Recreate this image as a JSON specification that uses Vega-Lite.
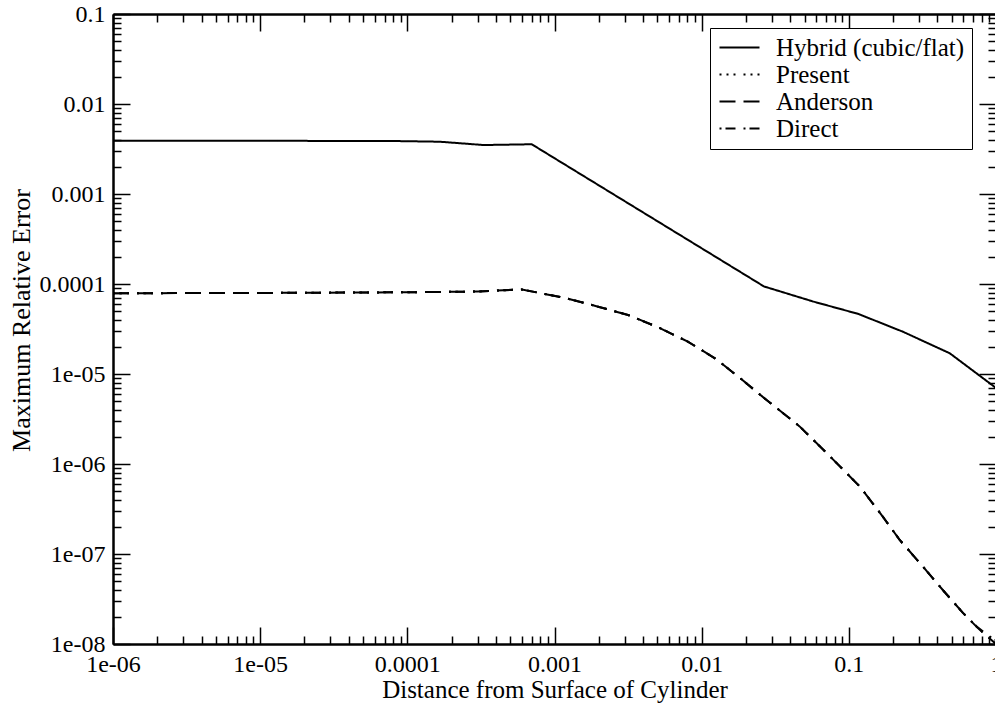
{
  "$schema": "https://vega.github.io/schema/vega-lite/v6.json",
  "width": 883,
  "height": 630,
  "autosize": {"type": "none"},
  "padding": {"left": 113, "top": 14, "right": 0, "bottom": 60},
  "background": "white",
  "config": {
    "font": "Liberation Serif",
    "view": {"stroke": null},
    "axis": {
      "grid": false,
      "domainColor": "black",
      "domainWidth": 2,
      "tickColor": "black",
      "tickWidth": 1.5,
      "labelColor": "black",
      "labelFont": "Liberation Serif",
      "labelFontSize": 24,
      "titleFont": "Liberation Serif",
      "titleFontSize": 25,
      "titleFontWeight": "normal",
      "titleColor": "black",
      "labelOverlap": false,
      "labelFlush": false,
      "labelBound": false
    },
    "legend": {
      "labelFont": "Liberation Serif",
      "labelFontSize": 25,
      "labelColor": "black",
      "labelLimit": 400
    }
  },
  "datasets": {
    "hybrid": [
      {"x": 1e-6, "y": 0.0039, "series": "Hybrid (cubic/flat)"},
      {"x": 1e-5, "y": 0.0039, "series": "Hybrid (cubic/flat)"},
      {"x": 8e-5, "y": 0.00388, "series": "Hybrid (cubic/flat)"},
      {"x": 1.66e-4, "y": 0.00381, "series": "Hybrid (cubic/flat)"},
      {"x": 3.3e-4, "y": 0.0035, "series": "Hybrid (cubic/flat)"},
      {"x": 7e-4, "y": 0.00357, "series": "Hybrid (cubic/flat)"},
      {"x": 0.0265, "y": 9.4e-5, "series": "Hybrid (cubic/flat)"},
      {"x": 0.057, "y": 6.4e-5, "series": "Hybrid (cubic/flat)"},
      {"x": 0.116, "y": 4.65e-5, "series": "Hybrid (cubic/flat)"},
      {"x": 0.233, "y": 2.95e-5, "series": "Hybrid (cubic/flat)"},
      {"x": 0.485, "y": 1.7e-5, "series": "Hybrid (cubic/flat)"},
      {"x": 1, "y": 7e-6, "series": "Hybrid (cubic/flat)"}
    ],
    "present": [
      {"x": 1e-6, "y": 7.9e-5, "series": "Present"},
      {"x": 1e-5, "y": 7.95e-5, "series": "Present"},
      {"x": 1e-4, "y": 8.1e-5, "series": "Present"},
      {"x": 3e-4, "y": 8.25e-5, "series": "Present"},
      {"x": 6e-4, "y": 8.7e-5, "series": "Present"},
      {"x": 1.21e-3, "y": 6.93e-5, "series": "Present"},
      {"x": 1.98e-3, "y": 5.6e-5, "series": "Present"},
      {"x": 3.16e-3, "y": 4.53e-5, "series": "Present"},
      {"x": 5.2e-3, "y": 3.24e-5, "series": "Present"},
      {"x": 8.05e-3, "y": 2.29e-5, "series": "Present"},
      {"x": 0.0126, "y": 1.46e-5, "series": "Present"},
      {"x": 0.01866, "y": 8.73e-6, "series": "Present"},
      {"x": 0.0276, "y": 5.14e-6, "series": "Present"},
      {"x": 0.0465, "y": 2.6e-6, "series": "Present"},
      {"x": 0.0762, "y": 1.17e-6, "series": "Present"},
      {"x": 0.119, "y": 5.6e-7, "series": "Present"},
      {"x": 0.167, "y": 2.71e-7, "series": "Present"},
      {"x": 0.222, "y": 1.43e-7, "series": "Present"},
      {"x": 0.312, "y": 7.55e-8, "series": "Present"},
      {"x": 0.435, "y": 3.98e-8, "series": "Present"},
      {"x": 0.594, "y": 2.23e-8, "series": "Present"},
      {"x": 0.751, "y": 1.51e-8, "series": "Present"},
      {"x": 0.879, "y": 1.2e-8, "series": "Present"},
      {"x": 1, "y": 1.0e-8, "series": "Present"}
    ],
    "anderson": [
      {"x": 1e-6, "y": 7.9e-5, "series": "Anderson"},
      {"x": 1e-5, "y": 7.95e-5, "series": "Anderson"},
      {"x": 1e-4, "y": 8.1e-5, "series": "Anderson"},
      {"x": 3e-4, "y": 8.25e-5, "series": "Anderson"},
      {"x": 6e-4, "y": 8.7e-5, "series": "Anderson"},
      {"x": 1.21e-3, "y": 6.93e-5, "series": "Anderson"},
      {"x": 1.98e-3, "y": 5.6e-5, "series": "Anderson"},
      {"x": 3.16e-3, "y": 4.53e-5, "series": "Anderson"},
      {"x": 5.2e-3, "y": 3.24e-5, "series": "Anderson"},
      {"x": 8.05e-3, "y": 2.29e-5, "series": "Anderson"},
      {"x": 0.0126, "y": 1.46e-5, "series": "Anderson"},
      {"x": 0.01866, "y": 8.73e-6, "series": "Anderson"},
      {"x": 0.0276, "y": 5.14e-6, "series": "Anderson"},
      {"x": 0.0465, "y": 2.6e-6, "series": "Anderson"},
      {"x": 0.0762, "y": 1.17e-6, "series": "Anderson"},
      {"x": 0.119, "y": 5.6e-7, "series": "Anderson"},
      {"x": 0.167, "y": 2.71e-7, "series": "Anderson"},
      {"x": 0.222, "y": 1.43e-7, "series": "Anderson"},
      {"x": 0.312, "y": 7.55e-8, "series": "Anderson"},
      {"x": 0.435, "y": 3.98e-8, "series": "Anderson"},
      {"x": 0.594, "y": 2.23e-8, "series": "Anderson"},
      {"x": 0.751, "y": 1.51e-8, "series": "Anderson"},
      {"x": 0.879, "y": 1.2e-8, "series": "Anderson"},
      {"x": 1, "y": 1.0e-8, "series": "Anderson"}
    ],
    "direct": [
      {"x": 1e-6, "y": 7.9e-5, "series": "Direct"},
      {"x": 1e-5, "y": 7.95e-5, "series": "Direct"},
      {"x": 1e-4, "y": 8.1e-5, "series": "Direct"},
      {"x": 3e-4, "y": 8.25e-5, "series": "Direct"},
      {"x": 6e-4, "y": 8.7e-5, "series": "Direct"},
      {"x": 1.21e-3, "y": 6.93e-5, "series": "Direct"},
      {"x": 1.98e-3, "y": 5.6e-5, "series": "Direct"},
      {"x": 3.16e-3, "y": 4.53e-5, "series": "Direct"},
      {"x": 5.2e-3, "y": 3.24e-5, "series": "Direct"},
      {"x": 8.05e-3, "y": 2.29e-5, "series": "Direct"},
      {"x": 0.0126, "y": 1.46e-5, "series": "Direct"},
      {"x": 0.01866, "y": 8.73e-6, "series": "Direct"},
      {"x": 0.0276, "y": 5.14e-6, "series": "Direct"},
      {"x": 0.0465, "y": 2.6e-6, "series": "Direct"},
      {"x": 0.0762, "y": 1.17e-6, "series": "Direct"},
      {"x": 0.119, "y": 5.6e-7, "series": "Direct"},
      {"x": 0.167, "y": 2.71e-7, "series": "Direct"},
      {"x": 0.222, "y": 1.43e-7, "series": "Direct"},
      {"x": 0.312, "y": 7.55e-8, "series": "Direct"},
      {"x": 0.435, "y": 3.98e-8, "series": "Direct"},
      {"x": 0.594, "y": 2.23e-8, "series": "Direct"},
      {"x": 0.751, "y": 1.53e-8, "series": "Direct"},
      {"x": 0.879, "y": 1.25e-8, "series": "Direct"},
      {"x": 1, "y": 1.1e-8, "series": "Direct"}
    ]
  },
  "resolve": {"axis": {"x": "independent", "y": "independent"}},
  "layer": [
    {
      "data": {"name": "hybrid"},
      "mark": {"type": "line", "color": "black", "strokeWidth": 2, "clip": true},
      "encoding": {
        "x": {
          "field": "x", "type": "quantitative",
          "scale": {"type": "log", "domain": [1e-6, 1], "nice": false},
          "axis": {
            "orient": "bottom",
            "values": [1e-6, 1e-5, 1e-4, 1e-3, 0.01, 0.1, 1],
            "tickSize": -17,
            "labelPadding": 25,
            "labelExpr": "datum.value < 0.00005 ? '1e-0' + format(-log(datum.value)/LN10, '.0f') : format(datum.value, '~g')",
            "title": "Distance from Surface of Cylinder",
            "titleY": 53,
            "titleBaseline": "alphabetic"
          }
        },
        "y": {
          "field": "y", "type": "quantitative",
          "scale": {"type": "log", "domain": [1e-8, 0.1], "nice": false},
          "axis": {
            "orient": "left",
            "values": [1e-8, 1e-7, 1e-6, 1e-5, 1e-4, 1e-3, 0.01, 0.1],
            "tickSize": -17,
            "labelPadding": 25,
            "labelExpr": "datum.value < 0.00005 ? '1e-0' + format(-log(datum.value)/LN10, '.0f') : format(datum.value, '~g')",
            "title": "Maximum Relative Error",
            "titleFontSize": 26,
            "titleX": -84,
            "titleY": 306,
            "titleAngle": -90,
            "titleAlign": "center",
            "titleBaseline": "alphabetic"
          }
        },
        "strokeDash": {
          "field": "series", "type": "nominal",
          "scale": {
            "domain": ["Hybrid (cubic/flat)", "Present", "Anderson", "Direct"],
            "range": [[1, 0], [2, 5, 2, 5, 2, 8], [16, 8], [2, 4, 10, 8]]
          },
          "legend": {
            "title": null,
            "orient": "none",
            "legendX": 597,
            "legendY": 14,
            "padding": 7,
            "strokeColor": "black",
            "fillColor": "white",
            "symbolType": "M-1,0H3",
            "symbolSize": 400,
            "symbolStrokeWidth": 2,
            "symbolStrokeColor": "black",
            "labelOffset": 34,
            "rowPadding": 1
          }
        }
      }
    },
    {
      "data": {"name": "present"},
      "mark": {"type": "line", "color": "black", "strokeWidth": 2, "clip": true},
      "encoding": {
        "x": {
          "field": "x", "type": "quantitative",
          "scale": {"type": "log", "domain": [1e-6, 1], "nice": false},
          "axis": {"orient": "top", "values": [1e-6, 1e-5, 1e-4, 1e-3, 0.01, 0.1, 1], "tickSize": -17, "labels": false, "title": null}
        },
        "y": {
          "field": "y", "type": "quantitative",
          "scale": {"type": "log", "domain": [1e-8, 0.1], "nice": false},
          "axis": {"orient": "right", "values": [1e-8, 1e-7, 1e-6, 1e-5, 1e-4, 1e-3, 0.01, 0.1], "tickSize": -17, "labels": false, "title": null}
        },
        "strokeDash": {
          "field": "series", "type": "nominal",
          "scale": {
            "domain": ["Hybrid (cubic/flat)", "Present", "Anderson", "Direct"],
            "range": [[1, 0], [2, 5, 2, 5, 2, 8], [16, 8], [2, 4, 10, 8]]
          }
        }
      }
    },
    {
      "data": {"name": "anderson"},
      "mark": {"type": "line", "color": "black", "strokeWidth": 2, "clip": true},
      "encoding": {
        "x": {
          "field": "x", "type": "quantitative",
          "scale": {"type": "log", "domain": [1e-6, 1], "nice": false},
          "axis": {"orient": "bottom", "values": [2e-6, 3e-6, 4e-6, 5e-6, 6e-6, 7e-6, 8e-6, 9e-6, 2e-5, 3e-5, 4e-5, 5e-5, 6e-5, 7e-5, 8e-5, 9e-5, 2e-4, 3e-4, 4e-4, 5e-4, 6e-4, 7e-4, 8e-4, 9e-4, 0.002, 0.003, 0.004, 0.005, 0.006, 0.007, 0.008, 0.009, 0.02, 0.03, 0.04, 0.05, 0.06, 0.07, 0.08, 0.09, 0.2, 0.3, 0.4, 0.5, 0.6, 0.7, 0.8, 0.9], "tickSize": -8, "labels": false, "title": null}
        },
        "y": {
          "field": "y", "type": "quantitative",
          "scale": {"type": "log", "domain": [1e-8, 0.1], "nice": false},
          "axis": {"orient": "left", "values": [2e-8, 3e-8, 4e-8, 5e-8, 6e-8, 7e-8, 8e-8, 9e-8, 2e-7, 3e-7, 4e-7, 5e-7, 6e-7, 7e-7, 8e-7, 9e-7, 2e-6, 3e-6, 4e-6, 5e-6, 6e-6, 7e-6, 8e-6, 9e-6, 2e-5, 3e-5, 4e-5, 5e-5, 6e-5, 7e-5, 8e-5, 9e-5, 2e-4, 3e-4, 4e-4, 5e-4, 6e-4, 7e-4, 8e-4, 9e-4, 0.002, 0.003, 0.004, 0.005, 0.006, 0.007, 0.008, 0.009, 0.02, 0.03, 0.04, 0.05, 0.06, 0.07, 0.08, 0.09], "tickSize": -8, "labels": false, "title": null}
        },
        "strokeDash": {
          "field": "series", "type": "nominal",
          "scale": {
            "domain": ["Hybrid (cubic/flat)", "Present", "Anderson", "Direct"],
            "range": [[1, 0], [2, 5, 2, 5, 2, 8], [16, 8], [2, 4, 10, 8]]
          }
        }
      }
    },
    {
      "data": {"name": "direct"},
      "mark": {"type": "line", "color": "black", "strokeWidth": 2, "clip": true},
      "encoding": {
        "x": {
          "field": "x", "type": "quantitative",
          "scale": {"type": "log", "domain": [1e-6, 1], "nice": false},
          "axis": {"orient": "top", "values": [2e-6, 3e-6, 4e-6, 5e-6, 6e-6, 7e-6, 8e-6, 9e-6, 2e-5, 3e-5, 4e-5, 5e-5, 6e-5, 7e-5, 8e-5, 9e-5, 2e-4, 3e-4, 4e-4, 5e-4, 6e-4, 7e-4, 8e-4, 9e-4, 0.002, 0.003, 0.004, 0.005, 0.006, 0.007, 0.008, 0.009, 0.02, 0.03, 0.04, 0.05, 0.06, 0.07, 0.08, 0.09, 0.2, 0.3, 0.4, 0.5, 0.6, 0.7, 0.8, 0.9], "tickSize": -8, "labels": false, "title": null}
        },
        "y": {
          "field": "y", "type": "quantitative",
          "scale": {"type": "log", "domain": [1e-8, 0.1], "nice": false},
          "axis": {"orient": "right", "values": [2e-8, 3e-8, 4e-8, 5e-8, 6e-8, 7e-8, 8e-8, 9e-8, 2e-7, 3e-7, 4e-7, 5e-7, 6e-7, 7e-7, 8e-7, 9e-7, 2e-6, 3e-6, 4e-6, 5e-6, 6e-6, 7e-6, 8e-6, 9e-6, 2e-5, 3e-5, 4e-5, 5e-5, 6e-5, 7e-5, 8e-5, 9e-5, 2e-4, 3e-4, 4e-4, 5e-4, 6e-4, 7e-4, 8e-4, 9e-4, 0.002, 0.003, 0.004, 0.005, 0.006, 0.007, 0.008, 0.009, 0.02, 0.03, 0.04, 0.05, 0.06, 0.07, 0.08, 0.09], "tickSize": -8, "labels": false, "title": null}
        },
        "strokeDash": {
          "field": "series", "type": "nominal",
          "scale": {
            "domain": ["Hybrid (cubic/flat)", "Present", "Anderson", "Direct"],
            "range": [[1, 0], [2, 5, 2, 5, 2, 8], [16, 8], [2, 4, 10, 8]]
          }
        }
      }
    }
  ]
}
